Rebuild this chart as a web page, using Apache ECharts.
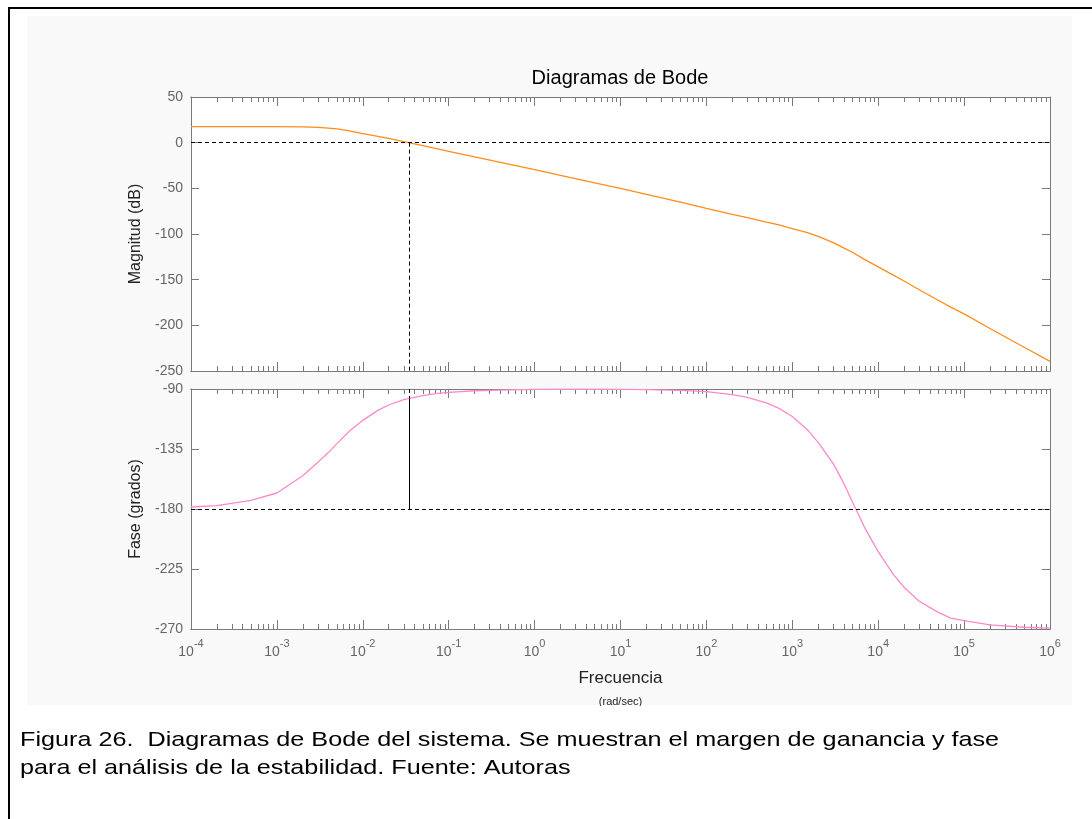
<!DOCTYPE html>
<html>
<head>
<meta charset="utf-8">
<script src="https://cdn.jsdelivr.net/npm/echarts@6/dist/echarts.min.js"></script>
<style>
  html, body { margin: 0; padding: 0; background: #fff; }
  #chart { width: 1092px; height: 819px; }
</style>
</head>
<body>
<div id="chart"></div>
<script>
const freqs = [1e-4, 2e-4, 5e-4, 1e-3, 2e-3, 3e-3, 4e-3, 5e-3, 7e-3, 1e-2, 1.5e-2, 2e-2, 3e-2, 5e-2, 7e-2,
    0.1, 0.2, 0.5, 1, 2, 5, 10, 20, 50, 100, 200, 300, 500, 700, 1000, 1500, 2000, 3000, 4000, 5000, 7000,
    1e4, 1.5e4, 2e4, 3e4, 5e4, 7e4, 1e5, 2e5, 5e5, 1e6];
const magDb = [17.5, 17.5, 17.5, 17.5, 17.3, 16.8, 16, 15, 12.8, 10, 7, 4.8, 1.2, -3.3, -6.3,
    -9.5, -15.5, -23.5, -29.5, -35.8, -44, -50, -56.5, -65, -72, -78.5, -82, -87, -90, -94, -98.5, -102.5, -109.5, -115.5, -120, -128,
    -136, -145, -151.5, -161, -172.5, -180, -187.5, -203.5, -224, -239.5];
const phaseDeg = [-178.5, -177.5, -173.5, -168, -155, -145, -137.5, -131, -121.5, -113.5, -106, -102, -98, -95, -93.5,
    -92.5, -91.3, -90.6, -90.3, -90.2, -90.2, -90.3, -90.5, -91, -92, -94.2, -96.3, -100.4, -104.5, -110.6, -120.5, -130, -146, -161, -174.5, -194.3,
    -212, -229, -238.7, -249.2, -257.5, -261.8, -263.7, -266.9, -268.7, -269.4];

// gain crossover and phase there (phase margin marker)
const crossoverFreq = 0.0345;
const phaseAtCrossover = -97;

// axes
const decadeTicks = [1e-4, 1e-3, 1e-2, 1e-1, 1, 10, 100, 1e3, 1e4, 1e5, 1e6];
const magTicks = { min: -250, max: 50, interval: 50 };
const phaseTicks = { min: -270, max: -90, interval: 45 };

const minorTicks = [];
decadeTicks.slice(0, -1).forEach(d => {
    for (let m = 2; m <= 9; m++) minorTicks.push(d * m);
});

const axisGray = '#7a7a7a';
const labelGray = '#666';
const fontFamily = '"Liberation Sans", Arial, sans-serif';

function freqAxis(gridIndex, position, ticks, tickLen, withLabels) {
    return {
        type: 'log',
        logBase: 10,
        gridIndex: gridIndex,
        position: position,
        min: 1e-4,
        max: 1e6,
        axisLine: { show: true, onZero: false, lineStyle: { color: axisGray, width: 1 } },
        axisTick: { show: true, inside: true, length: tickLen, customValues: ticks, lineStyle: { color: axisGray } },
        axisLabel: withLabels ? {
            show: true,
            customValues: decadeTicks,
            margin: 9,
            color: labelGray,
            fontFamily: fontFamily,
            formatter: v => '{b|10}{e|' + Math.round(Math.log10(v)) + '}',
            rich: {
                b: { fontSize: 14, fontFamily: fontFamily, color: labelGray, padding: [7, 0, 0, 0], verticalAlign: 'bottom' },
                e: { fontSize: 11, fontFamily: fontFamily, color: labelGray, verticalAlign: 'top' }
            }
        } : { show: false },
        splitLine: { show: false },
        minorTick: { show: false },
        minorSplitLine: { show: false }
    };
}

function valueAxis(gridIndex, position, range, withLabels, name) {
    return {
        type: 'value',
        gridIndex: gridIndex,
        position: position,
        min: range.min,
        max: range.max,
        interval: range.interval,
        name: name || '',
        nameLocation: 'middle',
        nameGap: 46,
        nameTextStyle: { fontSize: 16, color: '#222', fontFamily: fontFamily },
        axisLine: { show: true, onZero: false, lineStyle: { color: axisGray, width: 1 } },
        axisTick: { show: true, inside: true, length: 8, lineStyle: { color: axisGray } },
        axisLabel: withLabels ? { show: true, color: labelGray, fontSize: 14, fontFamily: fontFamily, margin: 8 } : { show: false },
        splitLine: { show: false }
    };
}

const chart = echarts.init(document.getElementById('chart'));

const option = {
    animation: false,
    backgroundColor: '#fff',
    grid: [
        { left: 191, top: 97, width: 859, height: 274, show: true, backgroundColor: '#fff', borderWidth: 0 },
        { left: 191, top: 389, width: 859, height: 240, show: true, backgroundColor: '#fff', borderWidth: 0 }
    ],
    xAxis: [
        freqAxis(0, 'bottom', decadeTicks, 9, false),
        freqAxis(0, 'bottom', minorTicks, 5, false),
        freqAxis(0, 'top', decadeTicks, 9, false),
        freqAxis(0, 'top', minorTicks, 5, false),
        Object.assign(freqAxis(1, 'bottom', decadeTicks, 9, true), {
            name: '{a|Frecuencia}\n{c|(rad/sec)}',
            nameLocation: 'middle',
            nameGap: 38,
            nameTextStyle: {
                rich: {
                    a: { fontSize: 17, lineHeight: 22, color: '#222', fontFamily: fontFamily },
                    c: { fontSize: 11, lineHeight: 26, color: '#222', fontFamily: fontFamily }
                }
            }
        }),
        freqAxis(1, 'bottom', minorTicks, 5, false),
        freqAxis(1, 'top', decadeTicks, 9, false),
        freqAxis(1, 'top', minorTicks, 5, false)
    ],
    yAxis: [
        valueAxis(0, 'left', magTicks, true, 'Magnitud (dB)'),
        valueAxis(0, 'right', magTicks, false),
        valueAxis(1, 'left', phaseTicks, true, 'Fase (grados)'),
        valueAxis(1, 'right', phaseTicks, false)
    ],
    series: [
        {
            name: 'Magnitud',
            type: 'line',
            xAxisIndex: 0,
            yAxisIndex: 0,
            data: freqs.map((f, i) => [f, magDb[i]]),
            symbol: 'none',
            lineStyle: { color: '#ff8c1a', width: 1.3 },
            markLine: {
                silent: true,
                symbol: 'none',
                label: { show: false },
                lineStyle: { color: '#000', width: 1, type: [4, 3] },
                data: [
                    [{ coord: [1e-4, 0] }, { coord: [1e6, 0] }],
                    [{ coord: [crossoverFreq, 0] }, { coord: [crossoverFreq, magTicks.min] }]
                ]
            }
        },
        {
            name: 'Fase',
            type: 'line',
            xAxisIndex: 4,
            yAxisIndex: 2,
            data: freqs.map((f, i) => [f, phaseDeg[i]]),
            symbol: 'none',
            lineStyle: { color: '#ff88cc', width: 1.3 },
            markLine: {
                silent: true,
                symbol: 'none',
                label: { show: false },
                lineStyle: { color: '#000', width: 1, type: [4, 3] },
                data: [
                    [{ coord: [1e-4, -180] }, { coord: [1e6, -180] }],
                    [{ coord: [crossoverFreq, phaseTicks.max] }, { coord: [crossoverFreq, phaseAtCrossover] }],
                    [{ coord: [crossoverFreq, phaseAtCrossover], lineStyle: { type: 'solid', color: '#000' } }, { coord: [crossoverFreq, -180] }]
                ]
            }
        }
    ],
    graphic: [
        { type: 'rect', silent: true, z: -20, shape: { x: 27, y: 16, width: 1045, height: 689 }, style: { fill: '#f9f9f9' } },
        { type: 'line', silent: true, z: 200, shape: { x1: 8, y1: 8, x2: 1092, y2: 8 }, style: { stroke: '#000', lineWidth: 2 } },
        { type: 'line', silent: true, z: 200, shape: { x1: 9, y1: 8, x2: 9, y2: 819 }, style: { stroke: '#000', lineWidth: 2 } },
        { type: 'rect', silent: true, z: 100, shape: { x: 10, y: 706, width: 1082, height: 113 }, style: { fill: '#fff' } },
        {
            type: 'text', silent: true, z: 150, x: 620, y: 78,
            style: { text: 'Diagramas de Bode', font: '20px ' + fontFamily, fill: '#000', align: 'center', verticalAlign: 'middle' }
        },
        {
            type: 'text', silent: true, z: 150, x: 20, y: 740, scaleX: 1.2,
            style: { text: 'Figura 26.  Diagramas de Bode del sistema. Se muestran el margen de ganancia y fase', font: '21px ' + fontFamily, fill: '#000', align: 'left', verticalAlign: 'middle' }
        },
        {
            type: 'text', silent: true, z: 150, x: 20, y: 768, scaleX: 1.2,
            style: { text: 'para el análisis de la estabilidad. Fuente: Autoras', font: '21px ' + fontFamily, fill: '#000', align: 'left', verticalAlign: 'middle' }
        }
    ]
};

chart.setOption(option);
window.addEventListener('resize', () => chart.resize());
</script>
</body>
</html>
